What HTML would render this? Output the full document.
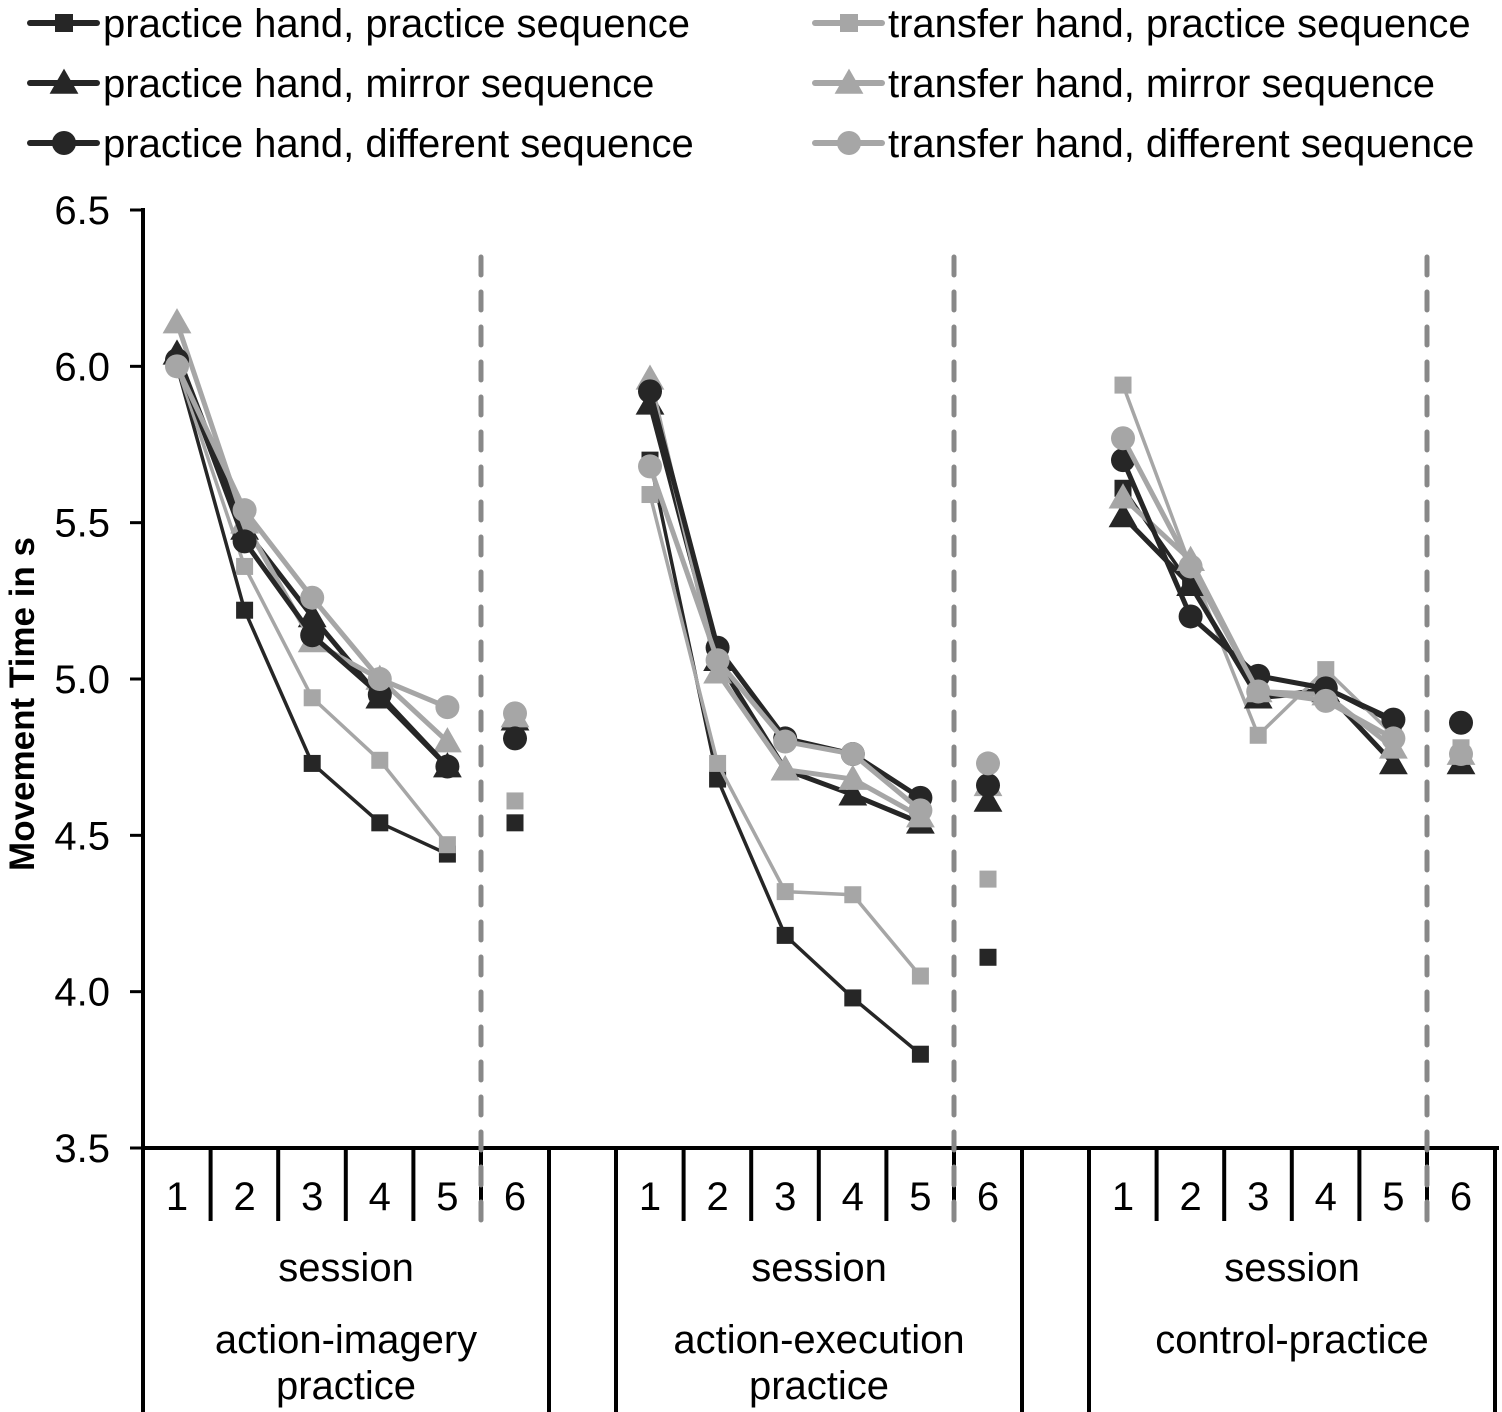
<!DOCTYPE html>
<html><head><meta charset="utf-8"><style>
body{margin:0;background:#fff;}
svg{display:block;font-family:"Liberation Sans",Arial,sans-serif;}
</style></head><body>
<svg id="chart" width="1502" height="1412" viewBox="0 0 1502 1412" xmlns="http://www.w3.org/2000/svg"></svg>
<script>
const groups = ["action-imagery practice","action-execution practice","control-practice"];
const sessions = [1,2,3,4,5,6];
const yTicks = [3.5,4.0,4.5,5.0,5.5,6.0,6.5];
const seriesNames = ["practice hand, practice sequence","practice hand, mirror sequence","practice hand, different sequence","transfer hand, practice sequence","transfer hand, mirror sequence","transfer hand, different sequence"];
// values per group: [s1..s6]
const ppVals = [[6.00,5.22,4.73,4.54,4.44,4.54],[5.70,4.68,4.18,3.98,3.80,4.11],[5.61,5.30,4.94,4.97,4.86,4.76]];
const pmVals = [[6.04,5.48,5.20,4.94,4.72,4.87],[5.88,5.06,4.71,4.63,4.54,4.61],[5.52,5.30,4.94,4.96,4.73,4.73]];
const pdVals = [[6.02,5.44,5.14,4.95,4.72,4.81],[5.92,5.10,4.81,4.76,4.62,4.66],[5.70,5.20,5.01,4.97,4.87,4.86]];
const tpVals = [[6.00,5.36,4.94,4.74,4.47,4.61],[5.59,4.73,4.32,4.31,4.05,4.36],[5.94,5.36,4.82,5.03,4.82,4.78]];
const tmVals = [[6.14,5.50,5.12,5.00,4.80,4.88],[5.96,5.02,4.71,4.68,4.56,4.66],[5.58,5.38,4.96,4.95,4.78,4.76]];
const tdVals = [[6.00,5.54,5.26,5.00,4.91,4.89],[5.68,5.06,4.80,4.76,4.58,4.73],[5.77,5.36,4.96,4.93,4.81,4.76]];

const NS="http://www.w3.org/2000/svg";
const svg=document.getElementById('chart');
function mk(t,a,p){const e=document.createElementNS(NS,t);for(const k in a)e.setAttribute(k,a[k]);(p||svg).appendChild(e);return e;}
const Y0=1148, Y1=210, VMIN=3.5, VMAX=6.5;
function yS(v){return Y0-(v-VMIN)/(VMAX-VMIN)*(Y0-Y1);}
const gStart=[143,616,1089], step=67.6;
function xS(g,i){return gStart[g]+34+i*step;}
const DARK="#262626", GREY="#a6a6a6";
const FS=40;

// y axis
let e=mk('line',{x1:143,y1:208,x2:143,y2:1412,stroke:'#000','stroke-width':4});


yTicks.forEach(t=>{
  const y=yS(t);
  let l=mk('line',{x1:130,y1:y,x2:143,y2:y,stroke:'#000','stroke-width':3});
  
  
  let tx=mk('text',{x:110,y:y+14,'text-anchor':'end','font-size':FS,fill:'#000'});
  tx.textContent=t.toFixed(1);
  
  
});
let yt=mk('text',{x:0,y:0,'font-size':35,'font-weight':'bold','text-anchor':'middle',transform:'translate(34,704) rotate(-90)'});
yt.textContent='Movement Time in s';



// x axis
e=mk('line',{x1:141,y1:1148,x2:1499,y2:1148,stroke:'#000','stroke-width':4});


groups.forEach((g,gi)=>{
  const s=gStart[gi], end=s+406;
  [s,end].forEach(x=>{
    let l=mk('line',{x1:x,y1:1148,x2:x,y2:1412,stroke:'#000','stroke-width':4});
    
    
  });
  for(let k=1;k<=4;k++){
    const x=s+k*step;
    let l=mk('line',{x1:x,y1:1148,x2:x,y2:1221,stroke:'#000','stroke-width':4});
    
    
  }
  const dx=s+5*step;
  let bl=mk('line',{x1:dx,y1:1148,x2:dx,y2:1221,stroke:'#000','stroke-width':4});
  
  
  let dl=mk('line',{x1:dx,y1:257,x2:dx,y2:1221,stroke:'#888','stroke-width':5,'stroke-dasharray':'18 17','stroke-linecap':'round'});
  
  
  sessions.forEach((sn,i)=>{
    let t=mk('text',{x:xS(gi,i),y:1210,'text-anchor':'middle','font-size':FS});
    t.textContent=sn;
    
    
  });
  const cx=s+203;
  let t=mk('text',{x:cx,y:1281,'text-anchor':'middle','font-size':FS});
  t.textContent='session';
  
  
  const words=g.split(' ');
  const lines = g==='control-practice'?[g]:[words[0],words[1]];
  lines.forEach((ln,li)=>{
    let tt=mk('text',{x:cx,y:1353+li*46,'text-anchor':'middle','font-size':FS});
    tt.textContent=ln;
    
    
  });
});

function marker(shape,x,y,col,sz,parent){
  if(shape==='sq') return mk('rect',{x:x-sz/2,y:y-sz/2,width:sz,height:sz,fill:col},parent);
  if(shape==='tri') return mk('polygon',{points:`${x},${y-sz*0.6} ${x-sz*0.6},${y+sz*0.45} ${x+sz*0.6},${y+sz*0.45}`,fill:col},parent);
  return mk('circle',{cx:x,cy:y,r:sz/2,fill:col},parent);
}
const series=[
 {name:seriesNames[0],vals:ppVals,col:DARK,shape:'sq',w:3.5,sz:17},
 {name:seriesNames[1],vals:pmVals,col:DARK,shape:'tri',w:5,sz:24},
 {name:seriesNames[2],vals:pdVals,col:DARK,shape:'ci',w:5,sz:24},
 {name:seriesNames[3],vals:tpVals,col:GREY,shape:'sq',w:3.5,sz:17},
 {name:seriesNames[4],vals:tmVals,col:GREY,shape:'tri',w:5,sz:24},
 {name:seriesNames[5],vals:tdVals,col:GREY,shape:'ci',w:5,sz:24}
];
const order=[0,3,1,4,2,5];
order.forEach(si=>{
  const s=series[si];
  const g=mk('g',{});
  
  
  s.vals.forEach((arr,gi)=>{
    const pts=arr.slice(0,5).map((v,i)=>xS(gi,i)+','+yS(v)).join(' ');
    const pl=mk('polyline',{points:pts,fill:'none',stroke:s.col,'stroke-width':s.w,'stroke-linejoin':'round'},g);
    
    
    arr.forEach((v,i)=>{
      const m=marker(s.shape,xS(gi,i),yS(v),s.col,s.sz,g);
      
      
    });
  });
});

// legend
series.forEach((s,i)=>{
  const col=i<3?0:1, row=i%3;
  const x0=col?815:30, y=23+row*60;
  const g=mk('g',{});
  
  
  mk('line',{x1:x0,y1:y,x2:x0+67,y2:y,stroke:s.col,'stroke-width':6,'stroke-linecap':'round'},g);
  marker(s.shape,x0+34,y,s.col,s.shape==='sq'?18:24,g);
  const t=mk('text',{x:x0+73,y:y+14,'font-size':FS,fill:'#000'},g);
  t.textContent=s.name;
});
</script>
</body></html>
